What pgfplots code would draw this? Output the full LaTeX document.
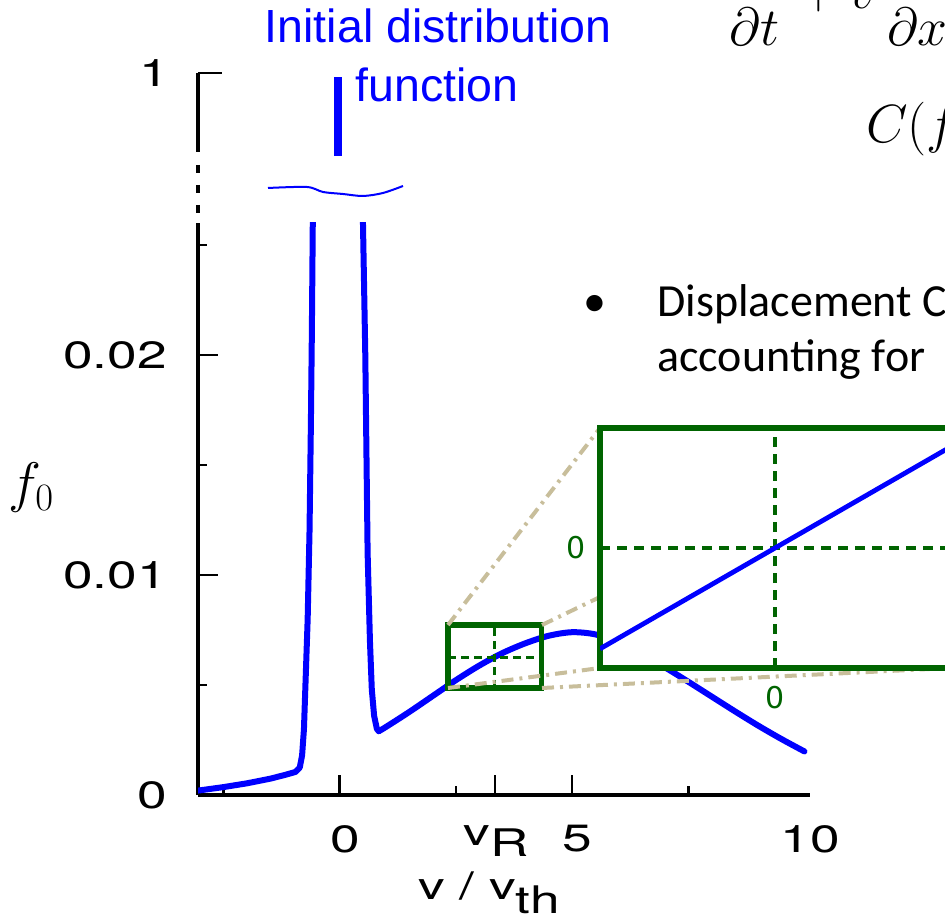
\documentclass[border=0pt]{standalone}
\usepackage{fontspec}
\usepackage{pgfplots}
\pgfplotsset{compat=1.18}
\newfontfamily\heros{TeX Gyre Heros}
\newfontfamily\arialf{Liberation Sans}
\newfontfamily\calibri{Carlito}
\newfontfamily\dejavu{DejaVu Sans}
\definecolor{pblue}{RGB}{0,0,255}
\definecolor{dgreen}{RGB}{0,100,0}
\definecolor{tanl}{RGB}{200,190,155}
\newcommand{\tl}{\heros\fontsize{19}{19}\selectfont}

\begin{document}
\begin{tikzpicture}
\clip (0,0) rectangle (472.5pt,460pt);
\useasboundingbox (0,0) rectangle (472.5pt,460pt);

% ---------------- main (lower) axis ----------------
\begin{axis}[
  at={(99pt,62.5pt)}, anchor=south west,
  scale only axis, width=306pt, height=286pt,
  xmin=-3.05, xmax=10.12, ymin=0, ymax=0.026,
  axis x line=bottom, axis y line=left,
  axis line style={-, line width=1.7pt, black},
  xtick={0,3.34,5}, xticklabels={0,{\hspace*{-3pt}v\raisebox{-5.5pt}{R}},5},
  minor xtick={-2.5,2.5,7.5},
  extra x ticks={10}, extra x tick labels={10},
  extra x tick style={major tick length=0pt},
  ytick={0,0.01,0.02}, yticklabels={0,0.01,0.02},
  minor ytick={0.005,0.015,0.025},
  scaled y ticks=false,
  tick align=inside,
  major tick length=10pt, minor tick length=4.5pt,
  tick style={black, line width=1.4pt},
  xticklabel style={font=\tl, xscale=1.4, anchor=north, inner sep=0pt, yshift=-15pt, xshift=2pt},
  yticklabel style={font=\tl, xscale=1.4, anchor=east, inner sep=0pt, xshift=-11pt},
]
\addplot[pblue, line width=3pt, line join=round, line cap=round] coordinates {
(-3.05,0.00020) (-2.5,0.00036) (-2.0,0.00053) (-1.5,0.00074) (-1.2,0.00090)
(-0.95,0.00105) (-0.86,0.00125) (-0.81,0.0018) (-0.77,0.0030) (-0.73,0.0055)
(-0.69,0.0080) (-0.65,0.0120) (-0.62,0.0170) (-0.60,0.0210) (-0.58,0.0260) (-0.57,0.0300)
};
\addplot[pblue, line width=3pt, line join=round, line cap=round] coordinates {
(0.49,0.0300) (0.50,0.0260) (0.55,0.0200) (0.60,0.0110) (0.65,0.0070) (0.69,0.0048)
(0.74,0.0036) (0.80,0.0030) (0.84,0.0029)
};
\addplot[pblue, line width=3pt, line join=round, line cap=round, smooth, tension=0.5] coordinates {
(0.84,0.00290) (1.0,0.00310) (1.5,0.00378) (2.0,0.00450) (2.5,0.00522) (3.0,0.00588)
(3.5,0.00645) (4.0,0.00690) (4.5,0.00724) (5.0,0.00740) (5.5,0.00730) (6.0,0.00693)
(6.5,0.00641) (7.0,0.00580) (7.5,0.00515) (8.0,0.00448) (8.5,0.00381) (9.0,0.00316)
(9.5,0.00255) (10.0,0.00198)
};
% small zoom box
\draw[dgreen, line width=1.5pt, dash pattern=on 4pt off 2.5pt] (axis cs:3.34,0.00486) -- (axis cs:3.34,0.00773);
\draw[dgreen, line width=1.5pt, dash pattern=on 4pt off 2.5pt] (axis cs:2.33,0.00627) -- (axis cs:4.35,0.00627);
\draw[dgreen, line width=2.6pt] (axis cs:2.33,0.00486) rectangle (axis cs:4.35,0.00773);
\end{axis}

% ---------------- upper axis (above the break) ----------------
\begin{axis}[
  at={(99pt,384pt)}, anchor=south west,
  scale only axis, width=306pt, height=39.5pt,
  xmin=-3.05, xmax=10.12, ymin=0.9, ymax=1,
  axis x line=none, axis y line=left,
  axis line style={-, line width=1.7pt, black},
  ytick={1}, yticklabels={1},
  tick align=inside, major tick length=12pt,
  tick style={black, line width=1.4pt},
  yticklabel style={font=\tl, xscale=1.4, anchor=east, inner sep=0pt, xshift=-10pt},
  clip=false,
]
\addplot[pblue, line width=4pt, line cap=butt] coordinates {(-0.04,0.895) (-0.04,0.995)};
\end{axis}

% ---------------- decorations and texts (1 unit = 1 px) ----------------
\begin{scope}[x=0.5pt, y=0.5pt]
\draw[black, line width=1.7pt, dash pattern=on 4pt off 6pt] (198,755) -- (198,705);
\draw[pblue, line width=1pt] plot[smooth] coordinates {(268,732) (307,733) (323,728) (343,726) (363,724) (383,727) (403,734)};
\draw[tanl, line width=2pt, dash pattern=on 6pt off 3pt on 1.5pt off 3pt] (448,295) -- (600,492);
\draw[tanl, line width=2pt, dash pattern=on 6pt off 3pt on 1.5pt off 3pt] (542,295) -- (950,492);
\draw[tanl, line width=2pt, dash pattern=on 6pt off 3pt on 1.5pt off 3pt] (448,232) -- (600,252);
\draw[tanl, line width=2pt, dash pattern=on 6pt off 3pt on 1.5pt off 3pt] (542,232) -- (950,252);

\node[anchor=base, inner sep=0pt, text=pblue, font=\arialf\fontsize{23.25}{23.25}\selectfont] at (438,877) {Initial distribution};
\node[anchor=base, inner sep=0pt, text=pblue, font=\arialf\fontsize{23.25}{23.25}\selectfont] at (437,818) {function};
\node[anchor=base west, inner sep=0pt, font=\fontsize{25}{25}\selectfont] at (8,418) {\scalebox{1.12}{$f_0$}};
\node[anchor=base, inner sep=0pt, font=\tl, xscale=1.4] at (489,21) {v / v\raisebox{-7pt}{th}};
\node[anchor=base, inner sep=0pt, font=\calibri\fontsize{23}{23}\selectfont] at (595,603) {•};
\node[anchor=base west, inner sep=0pt, font=\calibri\fontsize{23}{23}\selectfont] at (657,603) {Displacement C};
\node[anchor=base west, inner sep=0pt, font=\calibri\fontsize{23}{23}\selectfont] at (657,548) {accounting for};
\node[anchor=base west, inner sep=0pt, font=\fontsize{25}{25}\selectfont] at (714,911) {\scalebox{1.08}{$\displaystyle\frac{\partial f_0}{\partial t}$}};
\node[anchor=base west, inner sep=0pt, font=\fontsize{25}{25}\selectfont] at (787,911) {\scalebox{1.08}{$\displaystyle{}+v\frac{\partial f_0}{\partial x}={}$}};
\node[anchor=base west, inner sep=0pt, font=\fontsize{25}{25}\selectfont] at (866,777) {\scalebox{1.08}{$C(f)$}};
\end{scope}

% ---------------- inset (magnified) axis ----------------
\begin{axis}[
  at={(300pt,126pt)}, anchor=south west,
  scale only axis, width=175pt, height=120pt,
  xmin=-1, xmax=1, ymin=-1, ymax=1,
  axis background/.style={fill=white},
  axis line style={dgreen, line width=3pt},
  xtick={0}, ytick={0}, xticklabels={0}, yticklabels={0},
  major tick length=0pt, tick style={draw=none},
  xmajorgrids, ymajorgrids,
  grid style={dgreen, line width=1.6pt, dash pattern=on 5pt off 3.5pt},
  ticklabel style={font=\dejavu\fontsize{15}{15}\selectfont, text=dgreen, inner sep=0pt},
  xticklabel style={anchor=north, yshift=-9pt},
  yticklabel style={anchor=east, xshift=-7pt},
]
\addplot[pblue, line width=2.4pt] coordinates {(-1,-0.84) (1,0.84)};
\end{axis}
\end{tikzpicture}
\end{document}
